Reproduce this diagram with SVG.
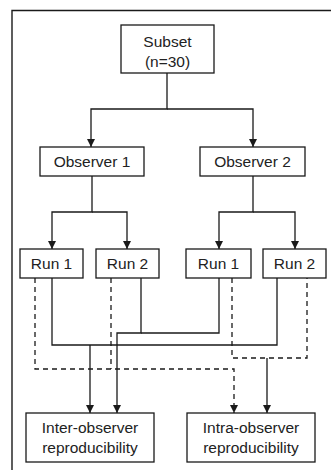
<svg xmlns="http://www.w3.org/2000/svg" width="331" height="470" viewBox="0 0 331 470">
<defs>
<marker id="ah" viewBox="0 0 8 8" refX="8" refY="4" markerWidth="8" markerHeight="8" markerUnits="userSpaceOnUse" orient="auto">
<path d="M0,0 L8,4 L0,8 Z" fill="#1a1a1a"/>
</marker>
<style>
.box{fill:#fff;stroke:#1a1a1a;stroke-width:1.3}
.t{font-family:"Liberation Sans",Arial,sans-serif;font-size:15.5px;fill:#222;text-anchor:middle}
.s{fill:none;stroke:#1a1a1a;stroke-width:1.3}
.d{fill:none;stroke:#1a1a1a;stroke-width:1.3;stroke-dasharray:5,4}
.a{marker-end:url(#ah)}
.frame{fill:none;stroke:#1a1a1a;stroke-width:1.4}
</style>
</defs>
<rect width="331" height="470" fill="#fff"/>
<path class="frame" d="M12,470 V10.5 H331"/>
<g id="connectors">
<path class="s a" d="M167,73 V109 H91 V147"/>
<path class="s a" d="M167,109 H253 V147"/>
<path class="s a" d="M92,176 V212 H52 V249"/>
<path class="s a" d="M92,212 H127 V249"/>
<path class="s a" d="M253,176 V212 H219 V249"/>
<path class="s a" d="M253,212 H295 V249"/>
<path class="s" d="M52,278 V345 H277 V278"/>
<path class="s a" d="M90,345 V413"/>
<path class="s a" d="M141,278 V333 H117 V413"/>
<path class="s" d="M141,333 H219 V278"/>
<path class="d a" d="M35,278 V369 H234 V413"/>
<path class="d" d="M111,278 V369"/>
<path class="d" d="M232,278 V358 H307 V278"/>
<path class="s a" d="M267,358 V413"/>
</g>
<g id="subset">
<rect class="box" x="121" y="25" width="93" height="48"/>
<text class="t" x="167.5" y="47">Subset</text>
<text class="t" x="167.5" y="67">(n=30)</text>
</g>
<g id="observer1">
<rect class="box" x="40" y="147" width="104" height="29"/>
<text class="t" x="92" y="167">Observer 1</text>
</g>
<g id="observer2">
<rect class="box" x="200" y="147" width="105" height="29"/>
<text class="t" x="252.5" y="167">Observer 2</text>
</g>
<g id="o1run1">
<rect class="box" x="20" y="249" width="63" height="29"/>
<text class="t" x="51.5" y="269">Run 1</text>
</g>
<g id="o1run2">
<rect class="box" x="96" y="249" width="63" height="29"/>
<text class="t" x="127.5" y="269">Run 2</text>
</g>
<g id="o2run1">
<rect class="box" x="186" y="249" width="65" height="29"/>
<text class="t" x="218.5" y="269">Run 1</text>
</g>
<g id="o2run2">
<rect class="box" x="263" y="249" width="63" height="29"/>
<text class="t" x="294.5" y="269">Run 2</text>
</g>
<g id="inter">
<rect class="box" x="26" y="413" width="128" height="49"/>
<text class="t" x="90" y="433">Inter-observer</text>
<text class="t" x="90" y="453">reproducibility</text>
</g>
<g id="intra">
<rect class="box" x="187" y="413" width="128" height="49"/>
<text class="t" x="251" y="433">Intra-observer</text>
<text class="t" x="251" y="453">reproducibility</text>
</g>
</svg>
